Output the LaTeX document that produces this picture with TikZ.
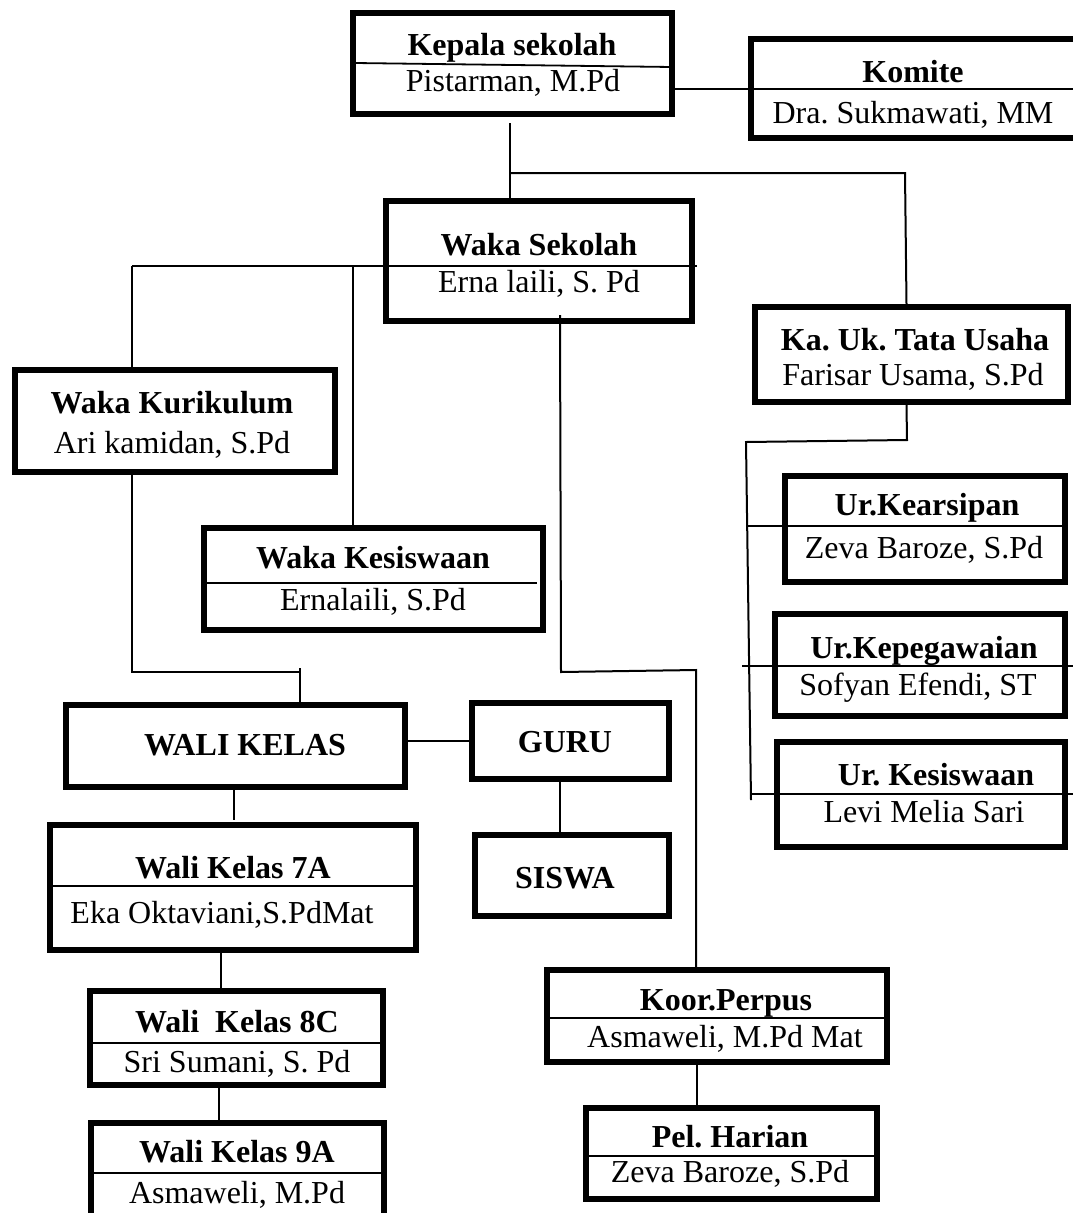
\documentclass[tikz,border=0pt]{standalone}
\usepackage{fontspec}
\setmainfont{Liberation Serif}
\usetikzlibrary{fit}
\frenchspacing
\newcommand{\orgfont}{\fontsize{32}{38}\selectfont}
\tikzset{
    orgbox/.style={draw, line width=6pt, inner sep=-3pt},
    conn/.style={line width=2pt},
    divline/.style={line width=1.8pt},
    jabatan/.style={font=\orgfont\bfseries, anchor=base, inner sep=0pt},
    nama/.style={font=\orgfont, anchor=base, inner sep=0pt}
}

\begin{document}
\begin{tikzpicture}[x=1pt, y=-1pt]
    \clip (0,0) rectangle (1073,1213);
    % kepala sekolah dan komite
    \node[orgbox, fit={(350,10) (675,117)}] (kepala) {};
    \node[jabatan] (kepalaJ) at (512,55) {Kepala sekolah};
    \node[nama] (kepalaN) at (513,91) {Pistarman, M.Pd};
    \draw[divline] (355,63) -- (672,67);
    \node[orgbox, fit={(748,36) (1095,141)}] (komite) {};
    \node[jabatan] (komiteJ) at (913,82) {Komite};
    \node[nama] (komiteN) at (913,123) {Dra. Sukmawati, MM};
    \draw[conn] (kepala.east |- komite.center) -- (komite.east);
    % waka sekolah
    \node[orgbox, fit={(383,198) (695,324)}] (wakasek) {};
    \node[jabatan] (wakasekJ) at (539,255) {Waka Sekolah};
    \node[nama] (wakasekN) at (539,292) {Erna laili, S. Pd};
    \coordinate (k1) at (510,123);
    \coordinate (k2) at (510,173);
    \draw[conn] (k1) -- (k1 |- wakasek.north);
    % tata usaha
    \node[orgbox, fit={(752,304) (1071,405)}] (kauk) {};
    \node[jabatan] (kaukJ) at (915,350) {Ka. Uk. Tata Usaha};
    \node[nama] (kaukN) at (913,385) {Farisar Usama, S.Pd};
    \draw[conn] (k2) -- (905,173) -- ([xshift=-5pt]kauk.north);
    % waka kurikulum dan kesiswaan
    \node[orgbox, fit={(12,367) (338,475)}] (wakakur) {};
    \node[jabatan] (wakakurJ) at (172,413) {Waka Kurikulum};
    \node[nama] (wakakurN) at (172,453) {Ari kamidan, S.Pd};
    \node[orgbox, fit={(201,525) (546,633)}] (wakakes) {};
    \node[jabatan] (wakakesJ) at (373,568) {Waka Kesiswaan};
    \node[nama] (wakakesN) at (373,610) {Ernalaili, S.Pd};
    \draw[divline] (201,583) -- (537,583);
    \coordinate (s1) at (132,266);
    \coordinate (s2) at (353,266);
    \draw[conn] (s1) -- (697,266);
    \draw[conn] (s1) -- (s1 |- wakakur.north);
    \draw[conn] (s2) -- (s2 |- wakakes.north);
    % wali kelas, guru, siswa
    \node[orgbox, fit={(63,702) (408,790)}] (walikelas) {};
    \node[jabatan] (walikelasJ) at (245,755) {WALI KELAS};
    \node[orgbox, fit={(469,700) (672,782)}] (guru) {};
    \node[jabatan] (guruJ) at (565,752) {GURU};
    \node[orgbox, fit={(472,832) (672,919)}] (siswa) {};
    \node[jabatan] (siswaJ) at (565,888) {SISWA};
    \coordinate (u1) at (132,672);
    \coordinate (u2) at (300,668);
    \draw[conn] (s1 |- wakakur.south) -- (u1) -- (300,672);
    \draw[conn] (u2) -- (u2 |- walikelas.north);
    \draw[conn] (walikelas.east |- guru.west) -- (guru.west);
    \coordinate (p1) at (560,315);
    \draw[conn] (guru.south -| p1) -- (siswa.north -| p1);
    % wali kelas 7A, 8C, 9A
    \node[orgbox, fit={(47,822) (419,953)}] (wali7a) {};
    \node[jabatan] (wali7aJ) at (233,878) {Wali Kelas 7A};
    \node[nama] (wali7aN) at (222,923) {Eka Oktaviani,S.PdMat};
    \draw[divline] (47,886) -- (419,886);
    \node[orgbox, fit={(87,988) (386,1088)}] (wali8c) {};
    \node[jabatan] (wali8cJ) at (237,1032) {Wali\ \ Kelas 8C};
    \node[nama] (wali8cN) at (237,1072) {Sri Sumani, S. Pd};
    \draw[divline] (87,1043) -- (386,1043);
    \node[orgbox, fit={(88,1120) (387,1235)}] (wali9a) {};
    \node[jabatan] (wali9aJ) at (237,1162) {Wali Kelas 9A};
    \node[nama] (wali9aN) at (237,1203) {Asmaweli, M.Pd};
    \draw[divline] (88,1173) -- (387,1173);
    \coordinate (w1) at (234,790);
    \coordinate (w2) at (221,953);
    \coordinate (w3) at (219,1088);
    \draw[conn] (w1) -- ([yshift=2pt]w1 |- wali7a.north);
    \draw[conn] (w2) -- (w2 |- wali8c.north);
    \draw[conn] (w3) -- (w3 |- wali9a.north);
    % perpustakaan
    \node[orgbox, fit={(544,967) (890,1065)}] (koor) {};
    \node[jabatan] (koorJ) at (726,1010) {Koor.Perpus};
    \node[nama] (koorN) at (725,1047) {Asmaweli, M.Pd Mat};
    \draw[divline] (544,1018) -- (890,1018);
    \node[orgbox, fit={(583,1105) (880,1202)}] (pel) {};
    \node[jabatan] (pelJ) at (730,1147) {Pel. Harian};
    \node[nama] (pelN) at (730,1182) {Zeva Baroze, S.Pd};
    \draw[divline] (583,1156) -- (880,1156);
    \coordinate (p2) at (561,672);
    \coordinate (p3) at (696,670);
    \draw[conn] (p1) -- (p2) -- (p3) -- (p3 |- koor.north);
    \coordinate (p4) at (697,1060);
    \draw[conn] (p4) -- (p4 |- pel.north);
    % urusan tata usaha
    \node[orgbox, fit={(782,473) (1068,585)}] (kearsip) {};
    \node[jabatan] (kearsipJ) at (927,515) {Ur.Kearsipan};
    \node[nama] (kearsipN) at (924,558) {Zeva Baroze, S.Pd};
    \node[orgbox, fit={(772,611) (1068,719)}] (kepeg) {};
    \node[jabatan] (kepegJ) at (924,658) {Ur.Kepegawaian};
    \node[nama] (kepegN) at (918,695) {Sofyan Efendi, ST};
    \node[orgbox, fit={(774,739) (1068,850)}] (urkes) {};
    \node[jabatan] (urkesJ) at (936,785) {Ur. Kesiswaan};
    \node[nama] (urkesN) at (924,822) {Levi Melia Sari};
    \coordinate (t1) at (907,440);
    \coordinate (t2) at (746,442);
    \draw[conn] ([xshift=-5pt]kauk.south) -- (t1) -- (t2) -- (751,800);
    \draw[conn] (t2 |- 0,526) -- (kearsip.east |- 0,526);
    \draw[conn] (742,666) -- (1073,666);
    \draw[conn] (750,794) -- (1073,794);
\end{tikzpicture}
\end{document}
